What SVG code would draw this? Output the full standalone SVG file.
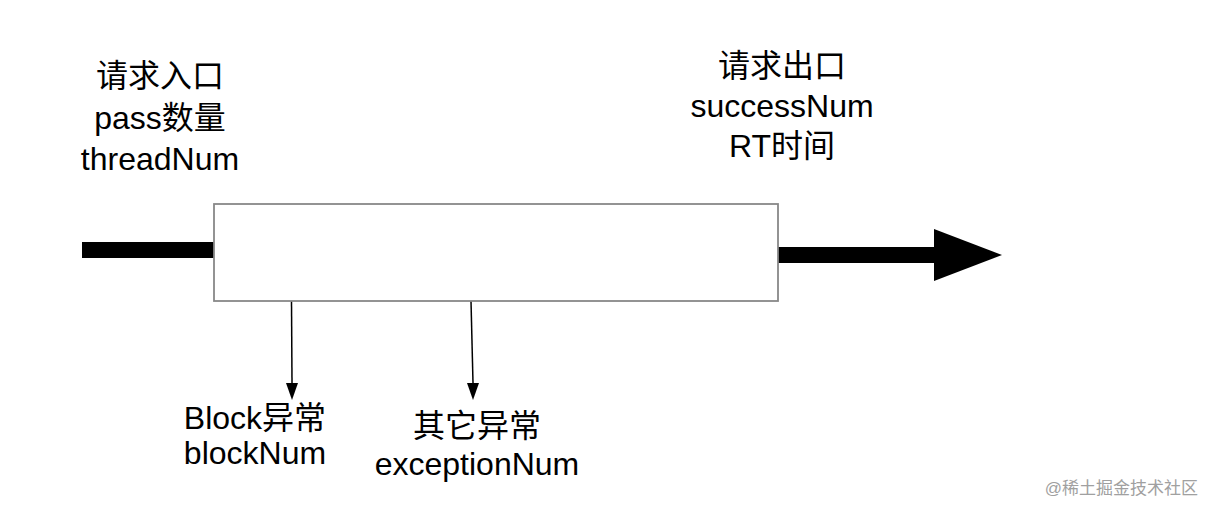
<svg xmlns="http://www.w3.org/2000/svg" width="1216" height="512" viewBox="0 0 1216 512">
<style>
.t{font-family:"Liberation Sans","Noto Sans CJK SC",sans-serif;font-size:32px;fill:#000;text-anchor:middle}
.wm{font-family:"Liberation Sans","Noto Sans CJK SC",sans-serif;font-size:17px;fill:#a0a0a0;text-anchor:end}
.thin{stroke:#000;stroke-width:1.5;fill:none}
</style>
<rect width="1216" height="512" fill="#fff"/>
<g id="connectors">
<rect x="82" y="242" width="132" height="16" fill="#000"/>
<rect x="778" y="247" width="157" height="16" fill="#000"/>
<path d="M934,229 L1002,255 L934,281 Z" fill="#000"/>
<line class="thin" x1="291.5" y1="301" x2="292" y2="383"/>
<path d="M286,383 L298,383 L292,400 Z" fill="#000"/>
<line class="thin" x1="471" y1="301" x2="473" y2="383"/>
<path d="M467,383 L479,383 L473,400 Z" fill="#000"/>
</g>
<g id="box">
<rect x="214" y="204" width="564" height="97" fill="#fff" stroke="#888" stroke-width="1.8"/>
</g>
<g id="entry">
<text class="t" x="160" y="87">请求入口</text>
<text class="t" x="160" y="129">pass数量</text>
<text class="t" x="160" y="170">threadNum</text>
</g>
<g id="exit">
<text class="t" x="782" y="77">请求出口</text>
<text class="t" x="782" y="117">successNum</text>
<text class="t" x="782" y="157">RT时间</text>
</g>
<g id="block">
<text class="t" x="255" y="429">Block异常</text>
<text class="t" x="255" y="464">blockNum</text>
</g>
<g id="exception">
<text class="t" x="477" y="437">其它异常</text>
<text class="t" x="477" y="475">exceptionNum</text>
</g>
<text class="wm" x="1198" y="494">@稀土掘金技术社区</text>
</svg>
